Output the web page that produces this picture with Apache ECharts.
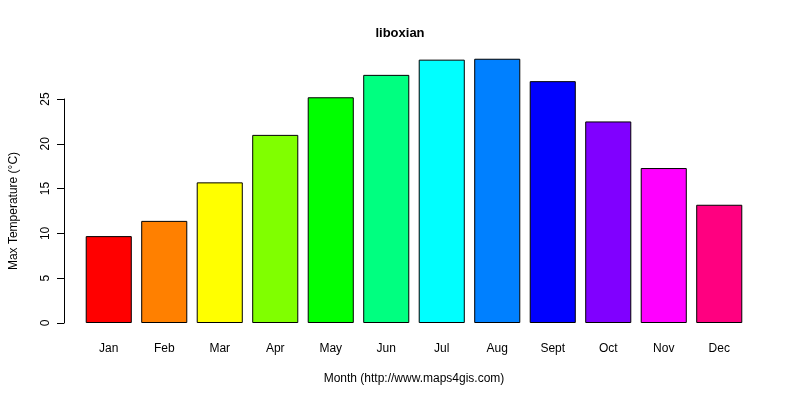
<!DOCTYPE html>
<html><head><meta charset="utf-8">
<script src="https://cdn.jsdelivr.net/npm/echarts@6/dist/echarts.min.js"></script>
<style>html,body{margin:0;padding:0;background:#fff}#c{width:800px;height:400px}</style>
</head><body><div id="c"></div>
<script>
const categories=['Jan','Feb','Mar','Apr','May','Jun','Jul','Aug','Sept','Oct','Nov','Dec'];
const values=[9.7,11.4,15.7,21.0,25.2,27.7,29.4,29.5,27.0,22.5,17.3,13.2];
const colors=['#FF0000','#FF8000','#FFFF00','#80FF00','#00FF00','#00FF80','#00FFFF','#0080FF','#0000FF','#8000FF','#FF00FF','#FF0080'];
const yTicks=[0,5,10,15,20,25];
const font='Liberation Sans, Arial, sans-serif';
const chart=echarts.init(document.getElementById('c'));
chart.setOption({
  animation:false,
  title:{text:'liboxian',left:'center',top:22,textStyle:{fontFamily:font,fontSize:13,fontWeight:'bold',color:'#000'}},
  grid:[{left:81,right:53,top:48,bottom:77},{left:60,right:53,top:99,bottom:77}],
  xAxis:[
    {type:'category',data:categories,gridIndex:0,axisLine:{show:false},axisTick:{show:false},
     axisLabel:{color:'#000',fontFamily:font,fontSize:12,margin:20},
     name:'Month (http://www.maps4gis.com)',nameLocation:'middle',nameGap:50,
     nameTextStyle:{color:'#000',fontFamily:font,fontSize:12}},
    {type:'value',gridIndex:1,show:false}
  ],
  yAxis:[
    {type:'value',gridIndex:0,min:0,max:30.7,show:false,splitLine:{show:false}},
    {type:'value',gridIndex:1,min:0,max:25,interval:5,position:'left',
     axisLine:{show:true,lineStyle:{color:'#000'}},axisTick:{show:true,length:7,lineStyle:{color:'#000'}},
     splitLine:{show:false},
     axisLabel:{color:'#000',fontFamily:font,fontSize:12,rotate:90,margin:12},
     name:'Max Temperature (°C)',nameLocation:'middle',nameGap:44,nameRotate:90,
     nameTextStyle:{color:'#000',fontFamily:font,fontSize:12}}
  ],
  series:[{type:'bar',xAxisIndex:0,yAxisIndex:0,data:values.map((v,i)=>({value:v,itemStyle:{color:colors[i]}})),
    barCategoryGap:'17%',itemStyle:{borderColor:'#000',borderWidth:1}}]
});
</script></body></html>
